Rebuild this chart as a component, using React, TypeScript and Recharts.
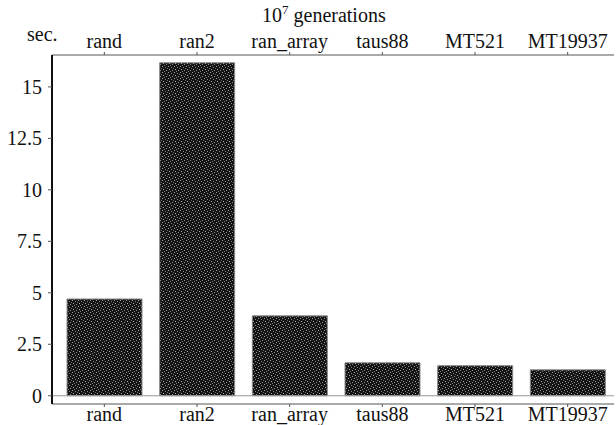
import React from 'react';
import { BarChart, Bar, XAxis, YAxis, ReferenceLine } from 'recharts';

const generators = ['rand', 'ran2', 'ran_array', 'taus88', 'MT521', 'MT19937'];
const seconds = [4.7, 16.17, 3.88, 1.6, 1.46, 1.26];
const yTicks = [0, 2.5, 5, 7.5, 10, 12.5, 15];

const data = generators.map((name, i) => ({ name, sec: seconds[i] }));

const FONT = "'Liberation Serif', serif";
const textStyle = { fontFamily: FONT, fontSize: 20, fill: '#111' };

const App: React.FC = () => {
  return (
    <div style={{ position: 'absolute', left: 0, top: 0, width: 616, height: 425, background: '#fff' }}>
      <div style={{ position: 'absolute', left: 262, top: 2, fontFamily: FONT, fontSize: 20, color: '#111', whiteSpace: 'nowrap' }}>
        10<sup style={{ fontSize: 13 }}>7</sup> generations
      </div>
      <div style={{ position: 'absolute', left: 27, top: 23, fontFamily: FONT, fontSize: 20, color: '#111' }}>
        sec.
      </div>
      <BarChart
        width={616}
        height={425}
        data={data}
        margin={{ top: 0, right: 2, bottom: 0, left: 0 }}
        barSize={75}
      >
        <defs>
          <pattern id="speckle" width="6" height="6" patternUnits="userSpaceOnUse">
            <rect width="6" height="6" fill="#141414" />
            <rect x="0" y="0" width="1" height="1" fill="#a0a0a0" />
            <rect x="3" y="1" width="1" height="1" fill="#8a8a8a" />
            <rect x="1" y="3" width="1" height="1" fill="#b0b0b0" />
            <rect x="4" y="4" width="1" height="1" fill="#909090" />
            <rect x="5" y="2" width="1" height="1" fill="#6a6a6a" />
            <rect x="2" y="5" width="1" height="1" fill="#7a7a7a" />
          </pattern>
        </defs>
        <XAxis
          xAxisId="bottom"
          dataKey="name"
          orientation="bottom"
          height={21}
          padding={{ left: 6, right: 0 }}
          tick={textStyle}
          tickSize={3}
          tickMargin={0}
          axisLine={{ stroke: '#555' }}
          tickLine={{ stroke: '#555' }}
          interval={0}
        />
        <XAxis
          xAxisId="top"
          dataKey="name"
          orientation="top"
          height={55}
          padding={{ left: 6, right: 0 }}
          tick={textStyle}
          tickSize={3}
          tickMargin={4}
          axisLine={{ stroke: '#555' }}
          tickLine={{ stroke: '#555' }}
          interval={0}
        />
        <YAxis
          yAxisId="left"
          width={52}
          domain={[-0.4, 16.55]}
          ticks={yTicks}
          tick={textStyle}
          tickSize={4}
          tickMargin={6}
          axisLine={{ stroke: '#111', strokeWidth: 2 }}
          tickLine={{ stroke: '#555' }}
          allowDataOverflow
        />
        <ReferenceLine yAxisId="left" xAxisId="bottom" y={0} stroke="#999" strokeWidth={1} />
        <Bar
          xAxisId="bottom"
          yAxisId="left"
          dataKey="sec"
          fill="url(#speckle)"
          stroke="#888"
          strokeWidth={1}
          isAnimationActive={false}
        />
      </BarChart>
    </div>
  );
};

export default App;
